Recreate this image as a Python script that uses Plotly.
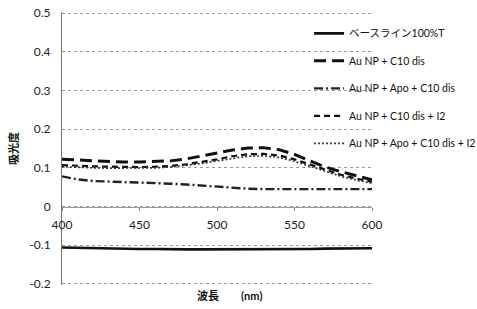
import plotly.graph_objects as go

wavelength = [400, 410, 420, 430, 440, 450, 460, 470, 480, 490, 500,
              510, 520, 530, 540, 550, 560, 570, 580, 590, 600]

baseline = [-0.106, -0.107, -0.108, -0.109, -0.110, -0.110, -0.110, -0.111, -0.111, -0.111, -0.111,
            -0.111, -0.111, -0.110, -0.110, -0.110, -0.110, -0.109, -0.109, -0.108, -0.108]
au_c10 = [0.122, 0.120, 0.118, 0.116, 0.115, 0.115, 0.116, 0.118, 0.123, 0.130, 0.138,
          0.146, 0.151, 0.152, 0.147, 0.135, 0.118, 0.102, 0.090, 0.079, 0.069]
au_apo_c10 = [0.078, 0.070, 0.066, 0.064, 0.063, 0.062, 0.061, 0.059, 0.057, 0.054, 0.051,
              0.048, 0.046, 0.045, 0.045, 0.045, 0.045, 0.045, 0.045, 0.045, 0.045]
au_c10_i2 = [0.107, 0.105, 0.104, 0.103, 0.102, 0.102, 0.103, 0.105, 0.109, 0.115, 0.122,
             0.130, 0.135, 0.136, 0.132, 0.122, 0.108, 0.094, 0.082, 0.072, 0.064]
au_apo_c10_i2 = [0.103, 0.101, 0.100, 0.099, 0.099, 0.099, 0.100, 0.102, 0.106, 0.111, 0.118,
                 0.125, 0.130, 0.131, 0.127, 0.117, 0.104, 0.090, 0.078, 0.068, 0.060]

series_names = ["ベースライン100%T", "Au NP + C10 dis", "Au NP + Apo + C10 dis",
                "Au NP + C10 dis + I2", "Au NP + Apo + C10 dis + I2"]
series_values = [baseline, au_c10, au_apo_c10, au_c10_i2, au_apo_c10_i2]

y_tick_vals = [0.5, 0.4, 0.3, 0.2, 0.1, 0, -0.1, -0.2]
y_tick_text = ["0.5", "0.4", "0.3", "0.2", "0.1", "0", "-0.1", "-0.2"]
x_tick_vals = [400, 450, 500, 550, 600]

styles = [
    dict(color="#111", width=2.6, dash="solid"),
    dict(color="#111", width=3, dash="12px,6px"),
    dict(color="#222", width=2.4, dash="9px,3px,2px,3px"),
    dict(color="#111", width=2.2, dash="6px,4px"),
    dict(color="#333", width=1.6, dash="2px,2px"),
]

fig = go.Figure()
for i, (name, vals) in enumerate(zip(series_names, series_values)):
    fig.add_trace(go.Scatter(x=wavelength, y=vals, mode="lines", name=name,
                             line=styles[i], legendgroup=str(i)))

font_family = "Lato, Noto Sans CJK JP, sans-serif"
ymin, ymax = -0.203, 0.503

fig.update_layout(
    width=477, height=309,
    margin=dict(l=62, r=105, t=12, b=24, autoexpand=False),
    paper_bgcolor="white", plot_bgcolor="white",
    font=dict(family=font_family, size=12, color="#222"),
    showlegend=True,
    legend=dict(x=0.797, y=0.975, xanchor="left", yanchor="top",
                bgcolor="rgba(0,0,0,0)", font=dict(size=10.5, color="#111"),
                tracegroupgap=8.5, traceorder="grouped", itemwidth=30),
    xaxis=dict(range=[400, 600], tickvals=x_tick_vals, showgrid=False,
               anchor="free", position=(0 - ymin) / (ymax - ymin),
               showline=True, linecolor="#999", linewidth=1,
               ticks="outside", ticklen=3, tickcolor="#888", ticklabelstandoff=4,
               zeroline=False, tickfont=dict(size=12), automargin=False),
    yaxis=dict(range=[ymin, ymax], tickvals=y_tick_vals, ticktext=y_tick_text,
               showgrid=True, gridcolor="#999", griddash="dot", gridwidth=1,
               showline=True, linecolor="#777", linewidth=1,
               zeroline=False, ticks="", tickfont=dict(size=12), automargin=False,
               ticklabelstandoff=8, ticklabeloverflow="allow",
               title=dict(text="<b>吸光度</b>", font=dict(size=11, color="#111"), standoff=8)),
    annotations=[dict(text="<b>波長</b>　　<b>(nm)</b>", x=0.54, y=-0.037,
                      xref="paper", yref="paper", showarrow=False,
                      xanchor="center", yanchor="middle",
                      font=dict(size=11, color="#111"))],
)

fig.write_html("out.html", config={"displayModeBar": False},
               post_script="document.body.style.margin='0';document.body.style.overflow='hidden';")
